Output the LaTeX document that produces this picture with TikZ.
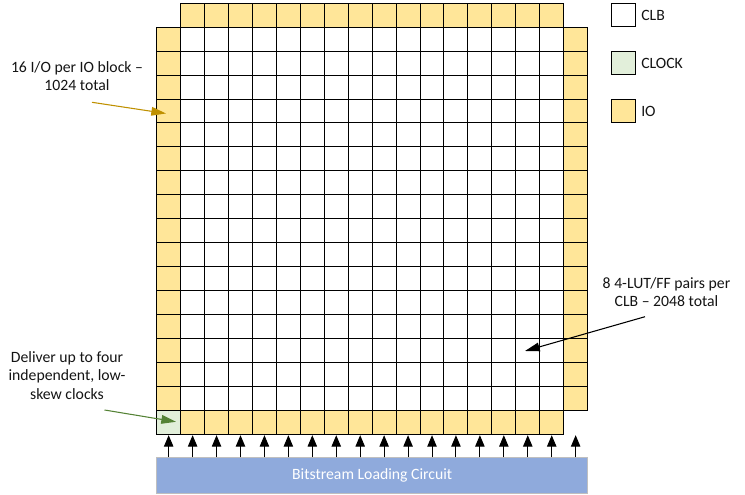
\documentclass[tikz,border=0pt]{standalone}
\usepackage{fontspec}
\setmainfont{Carlito}
\usetikzlibrary{arrows.meta}
\definecolor{iofill}{HTML}{FFE699}
\definecolor{clkfill}{HTML}{E2EFDA}
\definecolor{bsfill}{HTML}{8FAADC}
\definecolor{goldarrow}{HTML}{BF9000}
\definecolor{greenarrow}{HTML}{548235}
\definecolor{txt}{HTML}{141414}
\begin{document}
\begin{tikzpicture}[x=0.75pt,y=-0.75pt,
  font=\fontsize{11.8}{13.6}\selectfont,
  cell/.style={draw=black, line width=0.75pt, minimum size=17.955pt, inner sep=0pt, outer sep=0pt},
  clb/.style={cell, fill=white},
  io/.style={cell, fill=iofill},
  clk/.style={cell, fill=clkfill},
  legbox/.style={draw=black, line width=0.75pt, minimum width=18pt, minimum height=17.5pt, inner sep=0pt},
  leglabel/.style={anchor=west, text=txt, inner sep=0pt},
  note/.style={align=center, text=txt, inner sep=0pt},
  uparrow/.style={draw=black, line width=0.75pt, -{Triangle[length=8.5pt,width=7pt]}},
  notearrow/.style={line width=0.8pt, -{Triangle[length=11pt,width=6.5pt]}}
]
\useasboundingbox (0,0) rectangle (745,495);
% grid
\foreach \i in {1,...,16} {
  \foreach \j in {1,...,16} {
    \node[clb] (c-\i-\j) at ({168.67+23.94*\i},{15.27+23.94*\j}) {};
  }
}
\foreach \i in {1,...,16} {
  \node[io] (c-\i-0) at ({168.67+23.94*\i},15.27) {};
  \node[io] (c-\i-17) at ({168.67+23.94*\i},{15.27+23.94*17}) {};
}
\foreach \j in {1,...,16} {
  \node[io] (c-0-\j) at (168.67,{15.27+23.94*\j}) {};
  \node[io] (c-17-\j) at ({168.67+23.94*17},{15.27+23.94*\j}) {};
}
\node[clk] (c-0-17) at (168.67,{15.27+23.94*17}) {};
% bitstream circuit
\node[draw=black!25, line width=0.75pt, fill=bsfill, minimum width=323.25pt, minimum height=26.5pt, inner sep=0pt, text=white] (bs) at (372.2,475.65) {Bitstream Loading Circuit};
\foreach \i in {0,...,17} {
  \coordinate (b-\i) at ({168.67+23.94*\i},435.2);
  \draw[uparrow] (bs.north -| b-\i) -- (b-\i);
}
% legend
\node[legbox, fill=white] (lclb) at (623.7,15.3) {};
\node[legbox, fill=clkfill] (lclk) at (623.7,63) {};
\node[legbox, fill=iofill] (lio) at (623.7,111.3) {};
\node[leglabel] (tclb) at (641,15.3) {CLB};
\node[leglabel] (tclk) at (641,63) {CLOCK};
\node[leglabel] (tio) at (641,111.3) {IO};
% annotations
\node[note] (n1) at (77,76) {16 I/O per IO block --\\1024 total};
\coordinate (n1s) at (92,102.3);
\coordinate (n1e) at (166,113.5);
\draw[notearrow, goldarrow] (n1s) -- (n1e);
\node[note] (n2) at (67,375.5) {Deliver up to four\\independent, low-\\skew clocks};
\coordinate (n2s) at (104.5,410);
\coordinate (n2e) at (176,421.8);
\draw[notearrow, greenarrow] (n2s) -- (n2e);
\node[note] (n3) at (666.5,292.5) {8 4-LUT/FF pairs per\\CLB -- 2048 total};
\coordinate (n3s) at (645,316.7);
\coordinate (n3e) at (525,351);
\draw[notearrow, black] (n3s) -- (n3e);
\end{tikzpicture}
\end{document}
